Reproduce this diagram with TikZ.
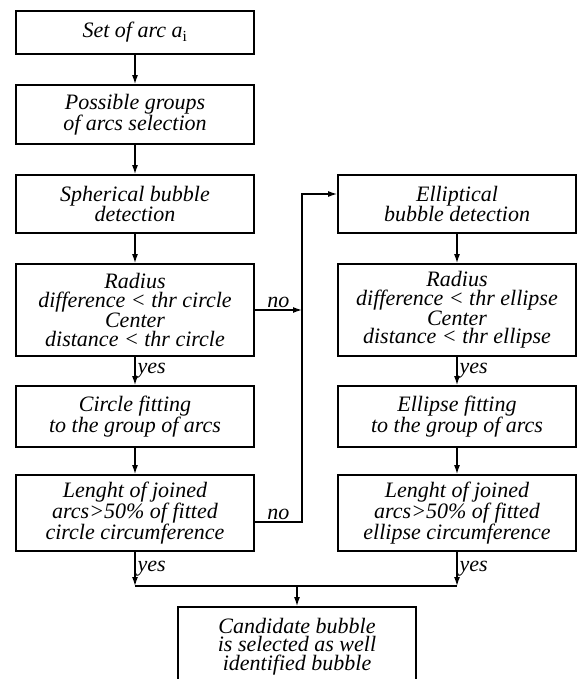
\documentclass[tikz,border=0pt]{standalone}
\usepackage{fontspec}
\setmainfont{Liberation Serif}
\usetikzlibrary{arrows.meta}
\begin{document}
\begin{tikzpicture}[x=1pt,y=-1pt,
  box/.style={draw,line width=1.8pt,minimum width=238pt,inner sep=0pt,align=center,
    font=\fontsize{22}{18.5}\selectfont\itshape},
  arr/.style={line width=1.3pt,-{Latex[length=9pt,width=6pt]}},
  ln/.style={line width=1.3pt},
  lbl/.style={font=\fontsize{22}{22}\selectfont\itshape,inner sep=2pt}]
\useasboundingbox (0,0) rectangle (577,679);
% left column
\node[box,minimum height=43pt] (b1) at (135,32.5) {Set of arc a\textsubscript{\textup{i}}};
\node[box,minimum height=59pt] (b2) at (135,114.5) {Possible groups\\of arcs selection};
\node[box,minimum height=58pt] (b3) at (135,204) {Spherical bubble\\detection};
\node[box,minimum height=92pt] (b4) at (135,310) {Radius\\difference < thr circle\\Center\\distance < thr circle};
\node[box,minimum height=61pt] (b5) at (135,416.5) {Circle fitting\\to the group of arcs};
\node[box,minimum height=76pt] (b6) at (135,513) {Lenght of joined\\arcs>50\% of fitted\\circle circumference};
% right column
\node[box,minimum height=58pt] (r3) at (457,204) {Elliptical\\bubble detection};
\node[box,minimum height=92pt] (r4) at (457,310) {Radius\\difference < thr ellipse\\Center\\distance < thr ellipse};
\node[box,minimum height=61pt] (r5) at (457,416.5) {Ellipse fitting\\to the group of arcs};
\node[box,minimum height=76pt] (r6) at (457,513) {Lenght of joined\\arcs>50\% of fitted\\ellipse circumference};
% bottom
\node[box,minimum height=79pt] (fin) at (297,646.5) {Candidate bubble\\is selected as well\\identified bubble};
\coordinate (vx) at (302,194);
\coordinate (m) at (297,586);
% connectors
\draw[arr] (b1) -- (b2);
\draw[arr] (b2) -- (b3);
\draw[arr] (b3) -- (b4);
\draw[arr] (b4) -- node[lbl,right]{yes} (b5);
\draw[arr] (b5) -- (b6);
\draw[arr] (r3) -- (r4);
\draw[arr] (r4) -- node[lbl,right]{yes} (r5);
\draw[arr] (r5) -- (r6);
\draw[arr] (b4.east) -- node[lbl,above]{no} (b4.east -| vx);
\draw[arr] ([yshift=-9pt]b6.east) -- node[lbl,above]{no} ([yshift=-9pt]b6.east -| vx) |- (r3.west |- vx);
\draw[arr] (b6.south) -- node[lbl,right]{yes} (b6.south |- m);
\draw[arr] (r6.south) -- node[lbl,right]{yes} (r6.south |- m);
\draw[ln] (b6.south |- m) -- (r6.south |- m);
\draw[arr] (m) -- (fin.north);
\end{tikzpicture}
\end{document}
